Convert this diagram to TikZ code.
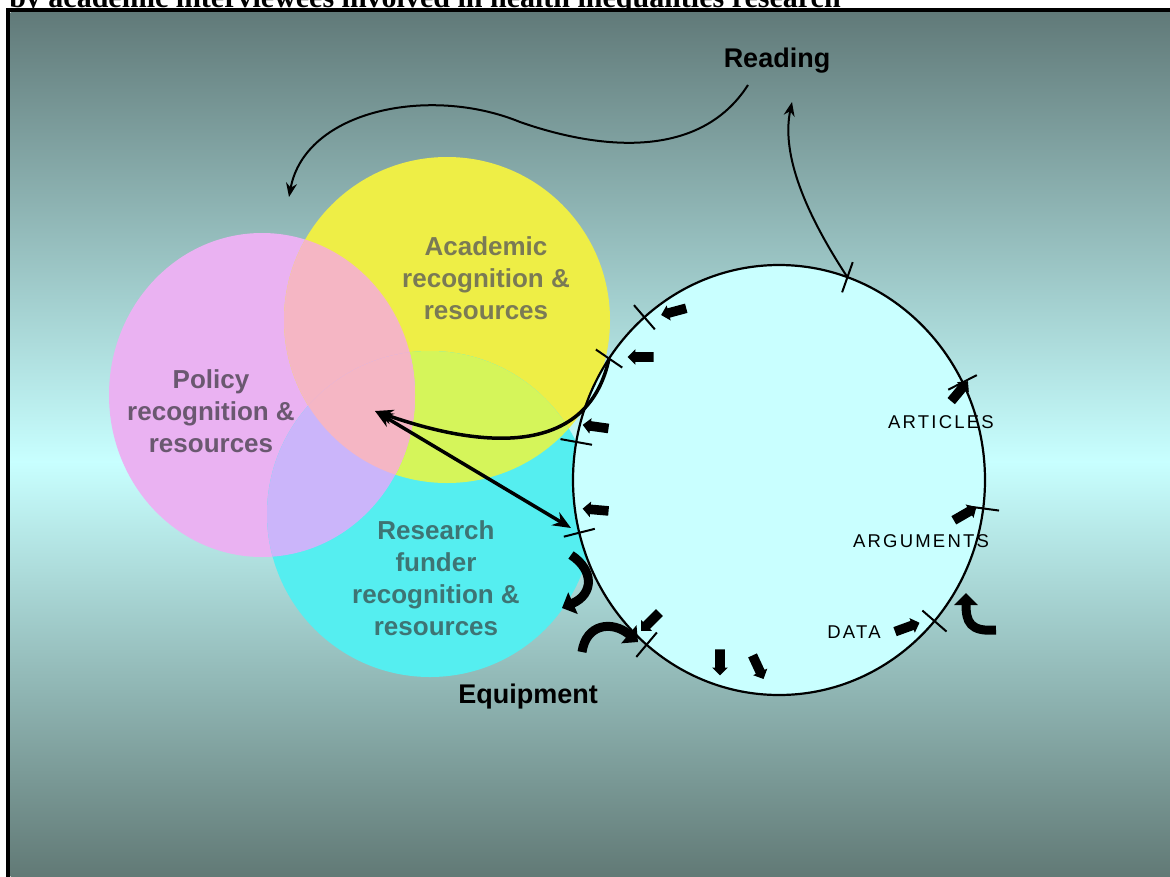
\documentclass[tikz,border=0pt]{standalone}
\usepackage{fontspec}
\setmainfont{Liberation Sans}
\newfontfamily\titlefont{Liberation Serif}
\usepackage{tikz}
\usetikzlibrary{arrows.meta,shapes.arrows}

\definecolor{bgdark}{HTML}{617A79}
\definecolor{bglight}{HTML}{C8FFFF}
\definecolor{bgbottom}{HTML}{5E7571}
\definecolor{policypink}{HTML}{EAB2F2}
\definecolor{academicyellow}{HTML}{EEEE46}
\definecolor{fundercyan}{HTML}{55EEF0}
\definecolor{salmonpink}{HTML}{F5B6C4}
\definecolor{lavender}{HTML}{CBB5FA}
\definecolor{limegreen}{HTML}{D5F55A}
\definecolor{proccyan}{HTML}{C9FFFF}
\definecolor{policytext}{HTML}{6A5870}
\definecolor{academictext}{HTML}{7A7A55}
\definecolor{fundertext}{HTML}{3E7474}

\begin{document}
\begin{tikzpicture}[x=1pt,y=-1pt,>=Stealth,semithick]

    \tikzstyle{venntext}=[font=\bfseries\fontsize{26}{32}\selectfont, align=center]
    \tikzstyle{bigtext}=[font=\bfseries\fontsize{27}{30}\selectfont]
    \tikzstyle{steptext}=[font=\fontsize{18.5}{20}\selectfont\addfontfeatures{LetterSpace=12}]
    \tikzstyle{tickline}=[line width=2pt]
    \tikzstyle{blockarrow}=[single arrow, fill=black, inner sep=4.5pt, minimum height=26pt, single arrow head extend=3pt]
    \tikzstyle{fatarrow}=[line width=9pt, -{Triangle[length=12pt,width=23pt]}]
    \tikzstyle{thinarrow}=[line width=2pt, ->, >={Stealth[length=14pt,width=11pt]}]
    \tikzstyle{boldarrow}=[line width=3.5pt, >={Stealth[length=18pt,width=15pt]}]

    \def \procx {779} % centre of the process circle
    \def \procy {480}
    \def \procrx {206} % radii of the process circle
    \def \procry {215}

    \newcommand\proctick[2]{
        \draw[tickline] ({\procx+(\procrx-16)*cos(#1)},{\procy-(\procry-16)*sin(#1)}) -- ({\procx+(\procrx+16)*cos(#1)},{\procy-(\procry+16)*sin(#1)});
        \coordinate (#2) at ({\procx+\procrx*cos(#1)},{\procy-\procry*sin(#1)});
    }
    %\proctick{angle}{name};

    \useasboundingbox (0,0) rectangle (1170,876);

    % title, cut by the frame
    \node[anchor=base west, inner sep=0, font=\titlefont\bfseries\fontsize{30}{30}\selectfont] (title) at (9,7) {by academic interviewees involved in health inequalities research};

    % frame and background
    \fill[black] (6,8) rectangle (1190,890);
    \fill[white] (9.5,11.5) rectangle (1190,890);
    \shade[top color=bgdark, bottom color=bglight] (10.5,12.5) rectangle (1190,462);
    \shade[top color=bglight, bottom color=bgbottom] (10.5,461) rectangle (1190,890);

    % centres of the three circles
    \coordinate (policy) at (262,395);
    \coordinate (academic) at (447,320);
    \coordinate (funder) at (430,514);

    % the three circles and their overlaps
    \fill[policypink] (policy) ellipse [x radius=153, y radius=162];
    \fill[academicyellow] (academic) circle (163);
    \fill[fundercyan] (funder) circle (163);
    \begin{scope}
        \clip (academic) circle (163);
        \fill[limegreen] (funder) circle (163);
        \fill[salmonpink] (policy) ellipse [x radius=153, y radius=162];
    \end{scope}
    \begin{scope}
        \clip (policy) ellipse [x radius=153, y radius=162];
        \fill[lavender] (funder) circle (163);
        \clip (academic) circle (163);
        \fill[salmonpink] (funder) circle (163);
    \end{scope}

    \node[venntext, text=academictext] (academiclabel) at (486,278) {Academic\\recognition \&\\resources};
    \node[venntext, text=policytext] (policylabel) at (211,411) {Policy\\recognition \&\\resources};
    \node[venntext, text=fundertext] (funderlabel) at (436,578) {Research\\funder\\recognition \&\\resources};

    \node[bigtext] (reading) at (777,61) {Reading};
    \node[bigtext] (equipment) at (528,697) {Equipment};

    % the process circle
    \draw[line width=2.2pt, fill=proccyan] (\procx,\procy) ellipse [x radius=\procrx, y radius=\procry];

    \proctick{70.6}{tkA};
    \proctick{130.8}{tkB};
    \proctick{145.6}{tkC};
    \proctick{169.8}{tkD};
    \proctick{194.2}{tkE};
    \proctick{230}{tkF};
    \proctick{27}{tkG};
    \proctick{-7.6}{tkH};
    \proctick{-41}{tkI};

    \node[steptext] (articles) at (941,422) {ARTICLES};
    \node[steptext] (arguments) at (921,541) {ARGUMENTS};
    \node[steptext] (data) at (854,632) {DATA};

    % reading in and out
    \coordinate (readin) at (792,102);
    \coordinate (readout) at (748,85);
    \coordinate (venntop) at (289,197);
    \draw[thinarrow] (tkA) .. controls (800,205) and (782,150) .. (readin);
    \draw[thinarrow] (readout) .. controls (700,160) and (600,150) .. (520,122) .. controls (430,85) and (305,110) .. (venntop);

    % recognition and resources to and from the circle
    \coordinate (vennpoint) at (375,411);
    \coordinate (fundtip) at (571,528);
    \draw[boldarrow, <->] (vennpoint) -- (fundtip);
    \draw[boldarrow, ->] (tkC) .. controls (590,448) and (500,455) .. (vennpoint);

    % small arrows round the circle
    \node[blockarrow, rotate=195] (arrowA) at (676,311) {};
    \node[blockarrow, rotate=180] (arrowB) at (643,357) {};
    \node[blockarrow, rotate=172] (arrowC) at (598,427) {};
    \node[blockarrow, rotate=175] (arrowD) at (598,510) {};
    \node[blockarrow, rotate=225] (arrowE) at (652,620) {};
    \node[blockarrow, rotate=270] (arrowF) at (720,660) {};
    \node[blockarrow, rotate=295] (arrowG) at (757,665) {};
    \node[blockarrow, rotate=20] (arrowH) at (905,628) {};
    \node[blockarrow, rotate=30] (arrowI) at (963,515) {};
    \node[blockarrow, rotate=50] (arrowJ) at (958,393) {};

    % the fat bent arrows
    \draw[fatarrow] (571,555) .. controls (594,570) and (594,594) .. (562,608);
    \draw[fatarrow] (582,652) .. controls (586,624) and (612,620) .. (638,642);
    \draw[fatarrow] (996,630) .. controls (970,632) and (966,622) .. (966,593);

\end{tikzpicture}
\end{document}
